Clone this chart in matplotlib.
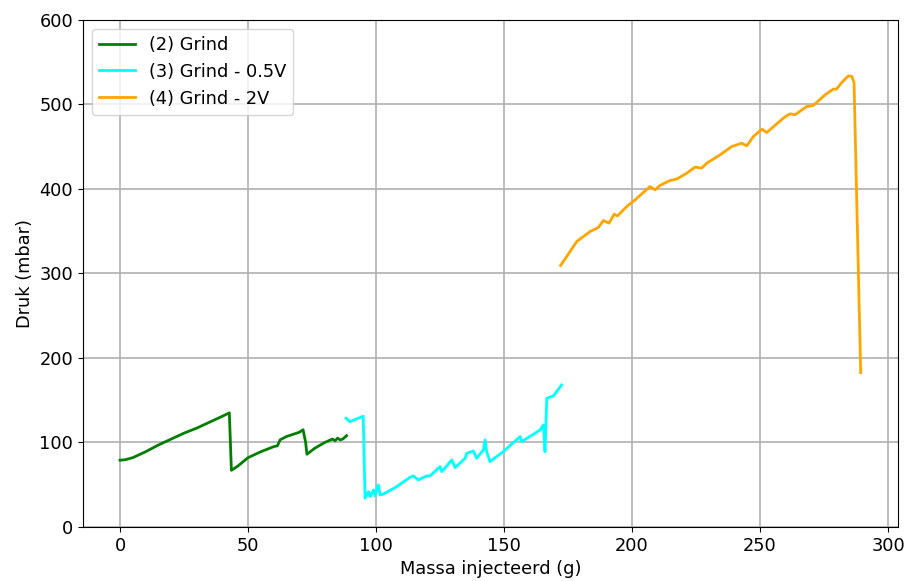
import numpy as np
import matplotlib
matplotlib.use("Agg")
import matplotlib.pyplot as plt

# (2) Grind
m_grind = [0, 2, 5, 10, 15, 20, 25, 30, 35, 40, 42.7, 43.5, 46, 50, 55, 60, 61.5,
           62.5, 65, 68, 70, 71.5, 72.5, 73, 76, 80, 83, 84, 85, 86, 87, 88.5]
p_grind = [79, 79.5, 82, 89, 97, 104, 111, 117, 124, 131, 135, 67, 72, 82, 89, 95, 96,
           103, 107, 110, 112, 115, 100, 86, 93, 100, 104, 102, 105, 103, 104, 108]

# (3) Grind - 0.5V
m_05v = [88.3, 89.8, 95.0, 95.7, 97.0, 97.7, 99.0, 99.6, 100.9, 101.6, 102.9, 108.1,
         113.3, 114.6, 116.5, 119.8, 121.1, 125.0, 125.7, 129.6, 130.9, 134.8, 135.4,
         138.0, 139.3, 141.9, 142.6, 143.2, 144.5, 149.7, 150.4, 156.3, 156.9, 164.1,
         165.4, 166.0, 166.7, 169.3, 172.5]
p_05v = [128.6, 124.6, 131, 34, 41.8, 35.9, 43.8, 36.7, 49.7, 37.9, 39, 47.7,
         58.8, 60.4, 55.6, 60.4, 60.4, 71.4, 65.5, 79.3, 70.2, 81.3, 87.2,
         89.9, 81.3, 91.1, 103, 89.1, 77.3, 89.1, 91.1, 106.9, 101, 114.8,
         120.7, 89.1, 152.3, 155, 168]

# (4) Grind - 2V
m_2v = [172.1, 178.4, 183.6, 186.8, 188.8, 191.0, 193.0, 194.3, 197.9, 201.2, 207.0,
        209.0, 210.9, 214.8, 217.4, 221.4, 224.6, 227.2, 229.2, 234.4, 238.9, 242.8,
        244.8, 247.4, 250.7, 252.6, 259.1, 261.7, 263.7, 268.2, 270.8, 275.4, 278.6,
        279.9, 281.9, 284.5, 285.8, 286.7, 289.3]
p_2v = [309.3, 337.7, 349.5, 354.2, 362.5, 359.4, 370, 368, 379, 387, 402.7,
        398.8, 404, 409.8, 411.5, 418.6, 425.7, 424.5, 430.4, 440.2, 450, 454,
        450.9, 461.9, 470.6, 466.6, 483.7, 488.8, 487.6, 497.4, 498.6, 511.2, 518,
        518, 525.8, 533.7, 533, 525.8, 182.6]

plt.rcParams['font.size'] = 12.8
fig = plt.figure(figsize=(9.09, 5.81), dpi=100)
ax = fig.add_axes([0.0913, 0.093, 0.8963, 0.873])

ax.plot(m_grind, p_grind, color='green', lw=2, label='(2) Grind')
ax.plot(m_05v, p_05v, color='cyan', lw=2, label='(3) Grind - 0.5V')
ax.plot(m_2v, p_2v, color='orange', lw=2, label='(4) Grind - 2V')

ax.set_ylim(0, 600)
ax.set_xlabel('Massa injecteerd (g)')
ax.set_ylabel('Druk (mbar)')
ax.grid(True, color='#b0b0b0', lw=1.2)
ax.legend(loc='upper left')

fig.savefig('out.png', dpi=100)
